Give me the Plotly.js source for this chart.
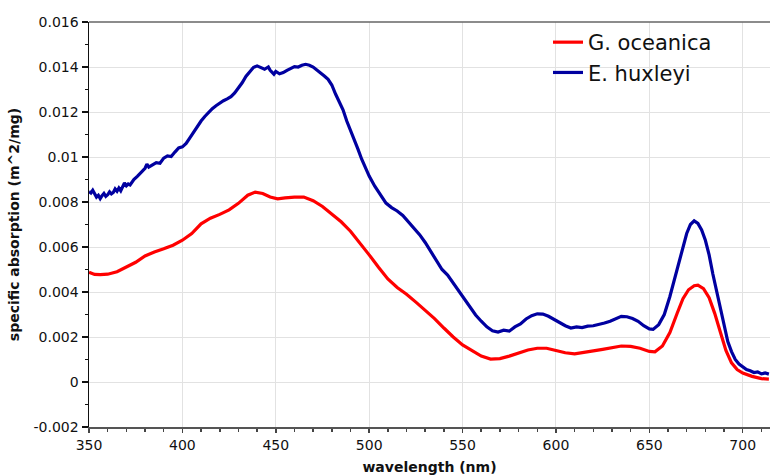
<!DOCTYPE html>
<html>
<head>
<meta charset="utf-8">
<script src="https://cdn.plot.ly/plotly-3.0.1.min.js"></script>
<style>html,body{margin:0;padding:0;background:#fff;}#chart{width:770px;height:475px;}</style>
</head>
<body>
<div id="chart"></div>
<script>
// G. oceanica (red)
const wlOceanica = [350,353,356,360,365,370,375,380,385,390,395,400,405,410,415,420,425,430,435,439,443,447,451,455,460,465,470,475,480,485,490,495,500,505,510,515,520,525,530,535,540,545,550,555,560,565,570,575,580,585,590,595,600,605,610,615,620,625,630,635,640,645,650,653,657,661,665,668,671,674,676,679,682,685,688,691,694,697,700,705,710,714];
const absOceanica = [0.00488,0.00478,0.00477,0.00479,0.00490,0.00510,0.00532,0.00560,0.00578,0.00592,0.00608,0.00630,0.00660,0.00703,0.00728,0.00745,0.00765,0.00794,0.00830,0.00844,0.00838,0.00822,0.00814,0.00818,0.00822,0.00822,0.00806,0.00780,0.00748,0.00712,0.00670,0.00620,0.00565,0.00510,0.00458,0.00420,0.00390,0.00355,0.00320,0.00282,0.00240,0.00200,0.00165,0.00138,0.00115,0.00102,0.00104,0.00115,0.00128,0.00142,0.00150,0.00150,0.00140,0.00130,0.00125,0.00130,0.00138,0.00145,0.00152,0.00160,0.00158,0.00150,0.00136,0.00134,0.00160,0.00220,0.00308,0.00370,0.00410,0.00428,0.00430,0.00415,0.00375,0.00305,0.00222,0.00140,0.00085,0.00055,0.00040,0.00025,0.00015,0.00013];

// E. huxleyi (blue)
const wlHuxleyi = [350,351,352,353,354,355,356,357,358,359,360,361,362,363,364,365,366,367,368,369,370,371,372,374,376,378,380,381,382,384,386,388,390,392,394,396,398,400,402,404,406,408,410,412,414,416,418,420,422,424,426,428,430,432,434,436,438,440,442,444,446,447,449,450,452,454,456,458,460,462,464,466,468,470,472,474,476,478,480,482,484,486,488,490,492,494,496,498,500,503,506,509,512,515,518,521,524,527,530,533,536,539,542,545,548,551,554,557,560,563,566,569,572,575,578,581,584,587,590,593,596,599,602,605,608,611,614,617,620,623,626,629,632,635,638,641,644,647,650,652,655,658,661,664,667,670,672,674,676,678,680,682,684,686,688,690,692,694,696,698,700,702,704,706,708,710,712,714];
const absHuxleyi = [0.00846,0.00840,0.00852,0.00835,0.00822,0.00830,0.00815,0.00828,0.00838,0.00825,0.00832,0.00845,0.00836,0.00842,0.00858,0.00848,0.00862,0.00850,0.00868,0.00885,0.00872,0.00880,0.00876,0.00900,0.00915,0.00935,0.00950,0.00968,0.00955,0.00965,0.00975,0.00972,0.00995,0.01005,0.01002,0.01022,0.01040,0.01045,0.01060,0.01085,0.01110,0.01140,0.01160,0.01180,0.01198,0.01215,0.01228,0.01240,0.01250,0.01258,0.01268,0.01285,0.01305,0.01330,0.01358,0.01380,0.01398,0.01405,0.01398,0.01390,0.01400,0.01385,0.01368,0.01380,0.01370,0.01375,0.01385,0.01392,0.01402,0.01400,0.01408,0.01412,0.01408,0.01400,0.01388,0.01376,0.01360,0.01345,0.01320,0.01280,0.01245,0.01210,0.01160,0.01120,0.01075,0.01035,0.00990,0.00950,0.00915,0.00870,0.00830,0.00795,0.00775,0.00760,0.00740,0.00712,0.00685,0.00655,0.00620,0.00580,0.00535,0.00500,0.00475,0.00440,0.00400,0.00365,0.00330,0.00298,0.00270,0.00245,0.00228,0.00222,0.00230,0.00226,0.00245,0.00258,0.00280,0.00295,0.00303,0.00302,0.00292,0.00278,0.00262,0.00250,0.00240,0.00245,0.00242,0.00248,0.00250,0.00255,0.00262,0.00270,0.00282,0.00292,0.00290,0.00282,0.00270,0.00250,0.00236,0.00234,0.00255,0.00300,0.00380,0.00470,0.00572,0.00660,0.00700,0.00716,0.00705,0.00676,0.00630,0.00565,0.00480,0.00405,0.00320,0.00245,0.00180,0.00135,0.00100,0.00080,0.00068,0.00055,0.00050,0.00042,0.00045,0.00036,0.00040,0.00035];

const yTickVals = [-0.002,0,0.002,0.004,0.006,0.008,0.01,0.012,0.014,0.016];
const yTickText = ["-0.002","0","0.002","0.004","0.006","0.008","0.01","0.012","0.014","0.016"];
const xTickVals = [350,400,450,500,550,600,650,700];
const xTickText = ["350","400","450","500","550","600","650","700"];

const font = "DejaVu Sans, Verdana, sans-serif";

const traces = [
  {x: wlOceanica, y: absOceanica, type: 'scatter', mode: 'lines', name: 'G. oceanica',
   line: {color: '#ff0000', width: 3.2}},
  {x: wlHuxleyi, y: absHuxleyi, type: 'scatter', mode: 'lines', name: 'E. huxleyi',
   line: {color: '#0000a0', width: 3.2}}
];

const layout = {
  width: 770, height: 475,
  margin: {l: 89, r: 0, t: 22, b: 48, pad: 0},
  paper_bgcolor: '#fff', plot_bgcolor: '#fff',
  font: {family: font, color: '#111', size: 14},
  showlegend: true,
  legend: {x: 0.674, y: 1.0, xanchor: 'left', yanchor: 'top', bgcolor: 'rgba(0,0,0,0)',
           font: {family: font, size: 21, color: '#111'}, tracegroupgap: 0, itemwidth: 30},
  xaxis: {
    range: [350, 714.6], tickmode: 'array', tickvals: xTickVals, ticktext: xTickText,
    showgrid: true, gridcolor: '#e2e2e2', gridwidth: 1, zeroline: false,
    showline: true, linecolor: '#555', linewidth: 2,
    ticks: 'outside', ticklen: 4, tickcolor: '#444', tickwidth: 1.5,
    minor: {dtick: 10, tick0: 350, ticks: 'outside', ticklen: 3, tickcolor: '#444', tickwidth: 1.5, showgrid: false},
    tickfont: {family: font, size: 14, color: '#111'},
    title: {text: '<b>wavelength (nm)</b>', font: {family: font, size: 14, color: '#111'}, standoff: 12},
    automargin: false
  },
  yaxis: {
    range: [-0.002, 0.016], tickmode: 'array', tickvals: yTickVals, ticktext: yTickText,
    showgrid: true, gridcolor: '#e2e2e2', gridwidth: 1, zeroline: false,
    showline: true, linecolor: '#111', linewidth: 1.5,
    ticks: 'outside', ticklen: 6, tickcolor: '#111', tickwidth: 1.5,
    minor: {dtick: 0.001, tick0: 0, ticks: 'outside', ticklen: 3, tickcolor: '#111', tickwidth: 1.5, showgrid: false},
    tickfont: {family: font, size: 14, color: '#111'},
    title: {text: '<b>specific absorption (m^2/mg)</b>', font: {family: font, size: 14, color: '#111'}, standoff: 10},
    automargin: false
  },
  shapes: [
    {type: 'line', xref: 'paper', yref: 'paper', x0: 0, x1: 1, y0: 1, y1: 1,
     line: {color: '#666', width: 1.5}}
  ]
};

Plotly.newPlot('chart', traces, layout, {displayModeBar: false, staticPlot: true});
</script>
</body>
</html>
